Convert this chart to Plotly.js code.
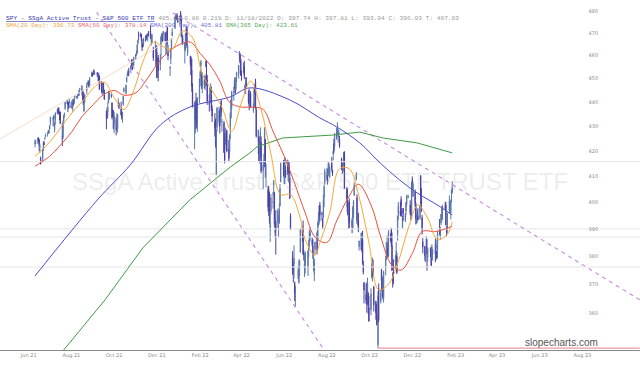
<!DOCTYPE html>
<html><head><meta charset="utf-8">
<script src="https://cdn.plot.ly/plotly-3.0.1.min.js"></script>
<style>html,body{margin:0;padding:0;background:#fff;}#chart{width:640px;height:367px;}</style>
</head><body><div id="chart"></div><script>
// ---- trading calendar (weekdays between first and last session, minus market holidays)
const firstSession = '2021-06-10';
const lastSession = '2023-01-27';
const holidays = ['2021-07-05','2021-09-06','2021-11-25','2021-12-24','2022-01-17','2022-02-21','2022-04-15',
  '2022-05-30','2022-06-20','2022-07-04','2022-09-05','2022-11-24','2022-12-26','2023-01-02','2023-01-16'];

// ---- daily OHLC (SPY)
const openP = [
422.96,424.20,424.43,425.42,424.63,421.67,417.09,416.80,420.85,423.19,424.89,425.90,427.17,427.88,427.21,
428.87,431.67,433.78,433.66,428.78,432.53,435.43,436.24,437.40,435.99,436.01,426.19,425.68,432.34,434.74,437.52,439.31,439.91,439.68,439.82,437.91,
440.34,438.44,439.78,439.77,442.10,442.46,442.61,443.82,443.62,445.59,444.53,444.24,442.96,436.27,440.23,445.16,447.97,448.17,448.61,447.12,450.97,452.13,
452.56,453.32,451.98,452.71,450.89,450.70,451.04,448.64,448.12,444.62,447.32,444.92,434.88,436.53,436.05,439.85,441.44,442.81,439.69,435.19,436.02,
430.98,433.00,430.24,429.27,438.39,439.48,437.16,435.67,434.71,439.08,444.75,443.97,448.92,451.13,451.77,453.13,454.28,457.20,456.45,455.46,455.87,
460.30,460.22,461.30,465.36,469.28,469.70,469.32,465.58,465.21,465.12,468.64,467.15,469.00,469.24,469.61,470.89,467.22,466.06,462.34,464.07,462.00,
461.64,450.73,459.17,456.13,464.41,468.70,468.15,469.23,470.19,463.09,463.42,472.57,461.55,454.48,458.61,462.79,468.75,472.06,477.72,476.98,477.93,475.64,
476.30,479.22,477.16,467.89,467.95,462.70,465.23,471.59,472.19,461.19,459.74,458.13,453.75,445.56,432.03,433.06,440.72,438.26,432.68,441.24,
450.68,455.50,450.95,446.35,449.51,446.73,455.22,451.34,449.41,439.92,443.73,443.93,443.22,437.33,431.89,432.66,411.02,429.61,432.03,
435.04,432.37,440.47,431.75,431.55,419.62,425.14,422.52,428.12,420.89,419.77,429.89,433.59,438.00,444.34,445.86,446.91,445.94,451.16,452.06,460.02,460.34,457.89,
453.31,453.13,455.22,446.89,445.59,447.97,444.11,443.08,438.03,443.55,436.81,437.86,446.92,448.54,436.91,423.67,425.83,417.24,422.29,423.59,
412.07,415.01,417.08,424.55,411.10,405.10,404.49,398.07,389.37,396.71,399.98,406.53,403.50,388.62,392.83,392.56,392.56,392.31,398.67,407.91,413.55,
415.17,409.42,412.40,414.78,408.10,413.93,409.34,394.88,379.85,376.85,377.36,370.51,365.51,371.89,370.62,376.64,381.40,391.05,390.23,381.23,376.24,
376.56,375.88,382.11,385.12,387.27,385.85,383.65,375.10,373.61,382.55,388.38,386.08,392.47,394.16,398.92,395.75,393.84,394.36,401.89,407.58,
409.15,409.12,410.30,414.37,409.66,415.25,412.22,418.78,422.99,422.03,424.77,427.73,426.00,426.86,424.98,417.05,412.90,412.11,415.24,419.39,402.20,405.03,399.92,
392.89,400.28,393.13,390.37,395.31,402.74,408.78,401.83,394.47,392.96,383.46,382.26,385.06,386.11,376.58,370.58,366.41,367.76,364.38,366.79,361.80,
361.08,372.40,373.06,375.62,368.97,363.96,358.24,358.17,349.21,368.55,364.01,375.13,367.82,368.03,365.12,375.89,378.79,381.62,383.07,379.87,386.44,
390.14,383.90,371.47,377.00,377.71,381.11,379.93,388.05,395.59,396.66,401.15,396.78,390.46,397.74,394.64,396.63,399.55,401.83,399.09,396.05,395.49,
408.77,402.25,403.95,399.42,392.94,395.14,394.94,394.11,410.22,401.61,394.30,385.18,383.47,379.23,382.98,383.05,379.65,382.79,381.33,379.63,380.64,
384.37,383.18,381.72,382.61,390.37,387.25,392.23,396.67,393.62,398.48,399.01,389.36,390.10,396.72,398.88,395.95,403.13,403.66];
const highP = [
424.63,424.43,425.37,425.46,424.87,423.02,417.83,421.06,424.00,424.05,425.55,427.09,427.65,428.56,428.78,
430.60,434.10,434.01,434.76,431.73,435.84,437.35,437.84,437.92,436.06,436.06,431.41,432.42,434.70,435.72,440.30,441.03,439.94,440.30,441.80,440.06,
440.93,441.28,441.12,441.85,442.94,442.80,443.44,443.88,445.26,445.94,447.11,444.96,444.63,441.14,443.71,448.23,448.54,449.46,448.86,450.65,453.07,452.49,
453.11,454.05,453.63,452.81,451.67,452.57,451.49,448.92,448.34,448.41,448.36,445.37,436.56,437.91,440.03,444.89,444.67,444.05,440.04,437.04,436.77,
436.03,433.96,435.49,435.12,441.68,439.89,440.26,436.10,436.05,442.66,446.26,447.55,450.71,452.73,453.83,454.67,455.90,458.49,457.16,458.40,459.56,
460.70,462.23,465.15,467.00,470.65,470.23,469.57,467.38,465.29,467.86,468.81,469.28,469.19,470.01,470.94,473.54,469.10,469.57,463.90,466.56,464.03,
464.67,459.07,460.30,460.79,468.88,470.00,469.63,470.90,470.56,465.74,470.86,472.87,464.74,455.40,463.21,467.81,472.19,477.31,478.81,478.56,479.00,476.86,
477.85,479.98,477.98,470.82,469.20,465.74,469.85,473.20,472.88,465.09,459.96,459.61,458.74,448.06,440.38,439.72,444.04,441.59,442.00,450.28,
453.63,458.12,452.97,452.78,450.99,451.92,457.88,457.71,451.61,443.50,446.28,448.06,446.57,438.66,435.50,433.26,428.76,437.84,438.20,
437.17,439.72,441.11,433.37,432.30,427.21,429.51,426.43,428.77,424.55,426.84,435.68,441.07,444.86,446.46,450.58,448.49,450.50,452.98,455.91,462.07,461.19,458.76,
453.46,456.91,457.83,447.58,450.69,450.63,445.00,445.75,444.11,444.73,439.75,445.80,447.57,450.01,438.08,428.69,426.04,422.92,429.64,425.87,
415.92,418.93,429.66,425.00,414.80,406.41,406.08,404.04,395.80,403.18,403.97,408.57,404.03,394.14,397.03,397.73,395.15,399.45,407.04,415.38,416.46,
416.24,417.44,414.04,416.61,416.22,415.82,411.74,395.78,381.81,377.94,383.90,370.94,369.38,376.53,378.72,378.83,390.09,391.36,393.16,382.27,380.66,
381.70,381.98,385.87,389.83,390.64,386.87,386.16,381.92,379.05,385.25,389.09,392.87,396.26,398.84,400.18,396.47,394.06,402.88,406.80,413.03,
413.41,413.00,415.68,415.09,414.15,417.62,412.75,420.11,424.95,427.21,429.40,431.73,428.91,428.61,426.09,417.43,415.42,415.11,419.56,419.96,405.84,405.62,400.82,
396.78,401.56,394.12,398.59,400.86,407.51,411.73,403.10,396.90,395.96,385.62,388.55,386.12,389.31,378.30,370.62,370.21,370.64,372.30,367.11,365.91,
368.55,377.49,379.46,378.72,369.40,364.21,363.03,359.82,367.51,370.26,367.98,375.45,372.67,372.67,374.80,380.06,385.25,387.58,385.00,389.52,388.40,
390.39,388.63,374.20,378.87,380.57,385.12,381.14,395.04,400.13,400.18,402.31,397.78,394.95,397.81,395.82,400.07,402.93,402.91,400.81,397.30,407.68,
410.00,407.86,404.93,399.99,395.64,397.36,397.73,399.00,410.49,405.50,395.25,386.58,383.82,382.23,387.41,386.21,383.06,383.15,383.39,384.35,382.58,
386.43,385.88,381.84,389.25,393.70,390.65,395.60,398.49,399.10,400.23,400.12,391.08,396.04,402.65,401.15,400.70,404.92,408.16];
const lowP = [
421.55,422.82,422.82,423.54,419.92,419.32,414.70,415.93,420.08,422.51,424.62,425.55,425.89,427.13,427.18,
428.80,430.52,430.01,431.51,427.52,430.71,434.97,435.31,434.91,432.60,430.92,421.97,424.83,431.01,433.69,436.79,439.26,435.99,437.31,439.81,437.77,
437.21,436.10,438.73,439.38,441.80,441.31,441.88,442.62,442.66,445.07,442.87,440.85,438.92,436.12,439.71,443.44,447.42,447.77,446.16,447.06,450.71,450.92,
451.55,451.91,451.55,450.74,448.86,448.72,445.31,444.11,443.22,443.44,444.02,441.02,428.86,433.07,433.75,439.60,441.21,441.90,432.94,433.85,428.78,
427.23,426.36,429.39,427.54,438.20,437.19,434.62,432.78,431.54,438.58,444.09,443.27,448.27,451.01,451.31,451.05,452.39,455.56,453.86,455.45,455.56,
458.20,460.08,460.83,464.99,466.92,468.20,465.88,462.04,463.75,464.11,466.23,466.83,467.48,466.34,468.50,467.35,464.45,465.19,457.77,461.73,455.30,
450.29,450.31,448.92,453.56,458.65,466.83,466.14,466.51,466.27,460.25,460.74,464.80,458.06,451.14,456.31,462.58,468.64,472.01,476.06,475.92,475.67,474.67,
473.85,475.58,468.28,465.43,464.65,456.60,462.05,468.94,463.44,459.90,455.31,451.46,444.50,437.95,420.76,427.15,428.86,429.45,427.82,439.81,
446.94,453.05,445.71,443.83,445.85,445.22,455.00,447.20,438.94,436.12,443.18,439.69,436.42,431.82,425.86,421.35,410.64,427.86,430.70,
427.11,431.57,433.80,427.88,419.36,415.12,422.82,420.44,419.53,415.79,418.42,424.80,433.19,437.22,440.68,445.86,443.71,444.76,448.43,450.06,457.18,456.47,451.16,
449.14,452.26,449.82,443.48,443.53,445.94,439.39,436.65,437.84,437.68,435.61,437.68,443.48,437.10,425.44,418.84,416.07,415.01,417.60,411.21,
405.02,413.36,413.71,409.44,405.73,396.50,394.82,391.96,385.15,395.61,397.60,402.58,390.55,387.11,380.54,390.38,386.96,391.89,398.45,407.70,410.03,
406.93,407.04,409.51,410.55,407.61,410.38,401.44,389.75,373.30,370.59,372.12,364.08,362.17,371.81,370.18,372.89,381.37,385.27,380.53,378.42,372.56,
373.80,372.90,379.60,383.27,385.66,383.50,378.99,374.66,371.04,380.54,380.66,385.39,391.03,391.63,392.75,393.21,389.95,394.05,398.15,406.77,
408.40,406.82,410.00,411.86,409.60,411.83,410.22,416.40,419.21,421.03,424.71,426.88,423.50,425.50,421.36,412.53,411.00,411.77,414.09,405.25,401.20,396.26,395.11,
390.04,390.33,388.42,390.20,394.12,402.46,408.46,391.90,391.28,388.78,382.08,382.18,381.45,376.87,373.44,363.29,363.03,360.08,362.60,359.70,357.04,
359.21,372.00,370.95,372.68,360.52,357.67,355.71,356.30,348.11,356.96,363.24,367.52,365.65,364.61,363.54,373.11,378.67,381.35,379.33,379.68,385.26,
383.29,374.76,368.79,370.00,375.53,377.72,373.61,385.64,393.48,394.83,394.49,394.79,390.14,393.04,392.66,395.15,398.73,401.54,395.11,393.30,393.48,
404.75,402.14,398.17,391.64,391.97,392.15,393.27,393.39,399.07,396.31,387.89,381.04,378.28,377.85,382.66,374.77,378.03,379.65,376.42,379.08,378.43,
377.83,380.00,378.76,379.41,387.67,386.27,391.38,392.42,393.34,397.06,391.28,387.26,388.38,395.72,397.64,393.56,400.03,403.44];
const closeP = [
423.61,424.31,425.26,424.48,422.11,421.97,414.92,420.86,423.11,422.60,425.10,426.61,427.47,427.70,428.06,
430.43,433.72,432.93,434.46,430.92,435.52,437.08,435.59,436.24,434.75,431.34,424.97,431.06,434.55,435.46,439.94,441.02,439.01,438.83,440.65,438.51,
437.59,441.15,438.98,441.76,442.49,442.13,442.68,443.78,445.11,445.92,446.97,444.04,439.18,439.86,443.36,447.26,447.97,448.91,446.26,450.25,452.23,451.56,
451.80,453.19,453.08,451.46,450.91,448.98,445.44,446.58,444.17,447.88,447.17,441.40,434.04,433.63,437.86,443.18,443.91,442.64,433.72,434.45,429.14,
434.24,428.64,433.10,434.90,438.66,437.86,434.69,433.62,435.18,442.50,445.87,447.19,450.64,452.41,453.59,453.12,455.55,455.96,453.94,458.32,459.25,
460.04,461.90,464.72,466.91,468.53,468.93,467.38,463.62,463.77,467.27,467.43,469.28,468.14,469.73,468.89,467.57,468.19,469.44,458.97,464.60,455.56,
450.50,457.40,453.42,458.79,468.28,469.52,466.35,470.74,466.57,463.36,470.60,466.45,459.87,454.98,463.06,467.69,470.60,477.26,476.87,477.48,476.16,474.96,
477.71,477.55,468.38,467.94,466.09,465.51,469.75,471.02,464.53,464.72,456.49,451.75,446.75,437.98,439.84,434.47,433.38,431.24,441.95,449.91,
452.95,457.35,446.60,448.70,447.26,450.94,457.54,449.32,440.46,439.02,446.10,446.60,437.06,434.23,429.57,421.95,428.30,437.75,436.63,
429.98,437.89,435.71,432.17,419.43,416.25,427.41,425.48,420.07,417.00,426.17,435.62,441.07,444.52,444.39,449.59,443.80,450.49,452.69,455.91,461.55,458.70,451.64,
452.92,456.80,451.03,446.52,448.77,447.57,439.92,438.29,443.31,437.79,437.97,445.04,444.71,438.06,426.04,428.51,416.10,417.27,427.81,412.00,
414.48,416.38,429.06,413.81,411.34,398.17,399.09,392.75,392.34,401.72,400.09,408.32,391.86,389.46,389.63,396.92,393.89,397.37,405.31,415.26,412.93,
409.59,417.39,410.54,411.79,415.74,411.22,401.44,389.80,375.00,373.87,379.20,366.65,365.86,375.07,374.39,378.06,390.08,388.59,380.65,380.34,377.25,
381.24,381.96,383.25,388.99,388.67,384.23,380.83,378.83,377.91,385.13,381.95,392.27,394.77,398.79,395.09,395.57,390.89,401.04,406.07,411.99,
410.77,408.06,415.17,414.80,413.47,412.99,411.35,419.99,419.99,427.10,428.86,429.70,426.65,427.89,422.14,413.35,412.35,413.67,419.51,405.31,402.63,398.21,395.18,
396.42,392.24,390.76,397.78,400.38,406.60,410.97,393.10,394.69,389.55,385.56,388.55,384.09,377.39,374.22,367.95,364.31,363.38,370.53,362.79,357.18,
366.61,377.09,376.35,373.20,362.79,360.02,357.74,356.56,365.97,357.63,366.82,371.13,368.50,365.41,374.29,378.87,384.92,382.02,379.98,389.02,386.21,
384.52,374.87,371.01,376.35,379.95,382.00,374.13,394.69,398.51,395.12,398.49,395.45,394.24,396.03,394.59,399.90,402.42,402.33,395.91,395.23,407.68,
407.38,406.91,399.59,393.83,393.16,396.24,393.28,398.95,401.97,399.40,389.63,383.27,380.02,380.54,386.23,380.72,382.91,381.40,376.66,383.44,382.43,
380.82,383.76,379.38,388.08,387.86,390.58,395.52,396.96,398.50,397.77,391.49,388.64,395.88,400.63,400.20,400.35,404.75,405.68];

// ---- moving averages, sampled off the chart
const sma20Dates = ['2021-06-10','2021-06-24','2021-07-09','2021-07-23','2021-08-06','2021-08-20','2021-09-03','2021-09-17','2021-10-01','2021-10-15','2021-10-29','2021-11-12','2021-11-26','2021-12-10','2021-12-23','2022-01-07','2022-01-21','2022-02-04','2022-02-18','2022-03-04','2022-03-18','2022-04-01','2022-04-14','2022-04-29','2022-05-13','2022-05-27','2022-06-10','2022-06-24','2022-07-01','2022-07-15','2022-07-22','2022-08-05','2022-08-19','2022-09-02','2022-09-16','2022-09-30','2022-10-14','2022-10-28','2022-11-11','2022-11-25','2022-12-09','2022-12-23','2023-01-06','2023-01-20','2023-01-27'];
const sma20Vals = [418,421.5,426.5,432,437,441.5,446.5,448.5,442,437,445,458,466,464,463,471,468,452,445,438,428,440,449,437,419,403,403,394,386,380.4,385,396,413,413,402,385,368,370,378,390,399,394,386,388,392.6];
const sma50Dates = ['2021-06-10','2021-07-01','2021-07-15','2021-08-02','2021-08-16','2021-09-01','2021-09-15','2021-10-01','2021-10-15','2021-11-01','2021-11-15','2021-12-01','2021-12-15','2022-01-03','2022-01-18','2022-02-01','2022-02-15','2022-03-01','2022-03-15','2022-04-01','2022-04-14','2022-05-02','2022-05-16','2022-06-01','2022-06-15','2022-07-01','2022-07-15','2022-08-01','2022-08-15','2022-09-01','2022-09-15','2022-10-03','2022-10-17','2022-11-01','2022-11-15','2022-12-01','2022-12-15','2023-01-03','2023-01-17','2023-01-27'];
const sma50Vals = [414,418,422,428,434,439,443,445,443,444,449,456,461,465,466,461,456,449,440,438,438,437,428,418,408,396,387,385,393,402,407,399,387,377,375,381,389,389,390,391];
const sma200Dates = ['2021-06-10','2021-09-07','2021-10-24','2021-12-06','2022-01-17','2022-03-16','2022-04-13','2022-06-09','2022-07-22','2022-08-15','2022-09-17','2022-10-16','2022-11-13','2022-12-08','2023-01-10','2023-01-27'];
const sma200Vals = [372.9,400.9,414.5,430.6,438.0,442.3,446.1,441.0,433.5,429.8,423.3,415.3,408.6,403.6,398.3,395.2];
const sma365Dates = ['2021-06-10','2021-07-21','2021-09-18','2021-11-11','2022-01-17','2022-03-16','2022-04-13','2022-04-23','2022-05-30','2022-08-10','2022-09-17','2022-10-20','2022-12-08','2023-01-27'];
const sma365Vals = [335.5,347.5,364.5,383.0,400.9,413.7,419.3,421.7,425.3,426.5,427.7,425.3,423.3,419.3];

// ---- drawn trend lines and levels (date, price pairs)
const trendUpper = {x:['2021-12-24','2023-10-22'], y:[479.1,364.5]};
const trendLower = {x:['2021-09-06','2022-07-28'], y:[479.5,347.5]};
const trendFaint = {x:['2021-04-21','2021-12-27'], y:[424.9,468.3]};
const levelsGray = [415.8,390.0,387.0,376.1];
const levelLow = {x:['2022-10-13','2023-10-22'], y:348.11};

const xRange = ['2021-04-21','2023-10-22 07:00'];
const xTicks = ['2021-06-01','2021-08-01','2021-10-01','2021-12-01','2022-02-01','2022-04-01','2022-06-01','2022-08-01',
  '2022-10-01','2022-12-01','2023-02-01','2023-04-01','2023-06-01','2023-08-01'];
const xTickText = ['Jun 21','Aug 21','Oct 21','Dec 21','Feb 22','Apr 22','Jun 22','Aug 22','Oct 22','Dec 22','Feb 23','Apr 23','Jun 23','Aug 23'];
const yTicks = [360,370,380,390,400,410,420,430,440,450,460,470,480];

function tradingDays(){
  const out=[]; const d=new Date(firstSession+'T00:00:00Z'); const end=new Date(lastSession+'T00:00:00Z');
  while(d<=end){ const w=d.getUTCDay(); const s=d.toISOString().slice(0,10);
    if(w!==0&&w!==6&&!holidays.includes(s)) out.push(s); d.setUTCDate(d.getUTCDate()+1); }
  return out;
}
const dates = tradingDays();

const traces = [];
function hline(x,y,color,dash,width){ traces.push({type:'scatter',mode:'lines',x:x,y:y,line:{color:color,width:width||1,dash:dash||'solid'},hoverinfo:'skip',showlegend:false}); }
levelsGray.forEach(v=>hline(xRange,[v,v],'#e6e6e6'));
hline(levelLow.x,[levelLow.y,levelLow.y],'#e99aa4',null,1.2);
hline(trendFaint.x,trendFaint.y,'#f6dcc8');
hline(trendUpper.x,trendUpper.y,'#c98bdc','4px,4px',1.1);
hline(trendLower.x,trendLower.y,'#c98bdc','4px,4px',1.1);
traces.push({type:'scatter',mode:'lines',x:sma365Dates,y:sma365Vals,line:{color:'#3f9a45',width:1},hoverinfo:'skip'});
traces.push({type:'scatter',mode:'lines',x:sma200Dates,y:sma200Vals,line:{color:'#4b4bd2',width:1,shape:'spline'},hoverinfo:'skip'});
traces.push({type:'candlestick',x:dates,open:openP,high:highP,low:lowP,close:closeP,whiskerwidth:0,
  increasing:{line:{color:'#5a78a8',width:1},fillcolor:'#5a78a8'},
  decreasing:{line:{color:'#4c3ea4',width:1},fillcolor:'#4c3ea4'},hoverinfo:'skip'});
traces.push({type:'scatter',mode:'lines',x:sma50Dates,y:sma50Vals,line:{color:'#ea4f3b',width:1,shape:'spline'},hoverinfo:'skip'});
traces.push({type:'scatter',mode:'lines',x:sma20Dates,y:sma20Vals,line:{color:'#f4a838',width:1,shape:'spline'},hoverinfo:'skip'});

const mono = 'Liberation Mono, DejaVu Sans Mono, monospace';
const header1 = '<span style="color:#3b3bb0;text-decoration:underline">SPY - SSgA Active Trust - S&amp;P 500 ETF TR</span>'+
  '<span style="color:#9a9a9a"> 405.68 0.86 0.21% D: 11/18/2022 O: 397.74 H: 397.81 L: 393.04 C: 396.03 T: 467.03</span>';
const header2 = '<span style="color:#f2a43a">SMA(20 Day): 396.73 </span><span style="color:#ee6a6a">SMA(50 Day): 378.14 </span>'+
  '<span style="color:#6f6fd8">SMA(200 Day): 405.81 </span><span style="color:#5aa85a">SMA(365 Day): 423.61</span>';

const layout = {
  width:640, height:367, margin:{l:0,r:0,t:0,b:17}, paper_bgcolor:'#fff', plot_bgcolor:'#fff',
  showlegend:false, hovermode:false, dragmode:false,
  xaxis:{type:'date', range:xRange, rangeslider:{visible:false}, showgrid:false, zeroline:false,
    showline:true, linecolor:'#8a8a8a', linewidth:1, ticks:'', tickvals:xTicks, ticktext:xTickText,
    tickfont:{family:'DejaVu Sans, sans-serif', size:5, color:'#8a8a8a'}, automargin:false},
  yaxis:{type:'log', range:[Math.log10(347.5), Math.log10(485.06)], anchor:'free', position:0.918, side:'right',
    showgrid:false, zeroline:false, showline:false, ticks:'', tickvals:yTicks, ticktext:yTicks.map(String),
    tickfont:{family:'DejaVu Sans, sans-serif', size:5, color:'#8a8a8a'}, automargin:false},
  annotations:[
    {xref:'paper',yref:'paper',x:0.5,y:(350-181)/350,xanchor:'center',yanchor:'middle',showarrow:false,
     text:'SSgA Active Trust - S&amp;P 500 ETF TRUST ETF', font:{family:'Liberation Sans, Arial, sans-serif',size:24,color:'rgba(170,170,170,0.22)'}},
    {xref:'paper',yref:'paper',x:4/640,y:1-19/350,xanchor:'left',yanchor:'middle',showarrow:false,text:header1,font:{family:mono,size:6.2}},
    {xref:'paper',yref:'paper',x:4/640,y:1-25.5/350,xanchor:'left',yanchor:'middle',showarrow:false,text:header2,font:{family:mono,size:6}},
    {xref:'paper',yref:'paper',x:600/640,y:(350-342)/350,xanchor:'right',yanchor:'middle',showarrow:false,
     text:'slopecharts.com', font:{family:'Liberation Sans, Arial, sans-serif',size:10,color:'#555'}}
  ]
};
Plotly.newPlot('chart', traces, layout, {staticPlot:true, displayModeBar:false});
</script></body></html>
